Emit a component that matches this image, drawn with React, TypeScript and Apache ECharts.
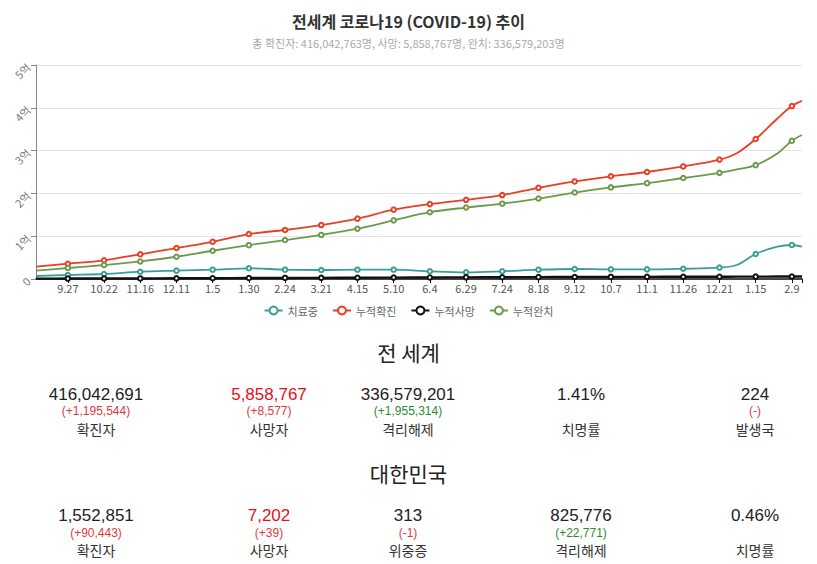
import React, { useEffect, useRef } from "react";
import * as echarts from "echarts";

// x positions of data points (dates); markers drawn at the labelled dates
const pointDates = [
  "2020-09-05", "2020-09-27", "2020-10-22", "2020-11-16", "2020-12-11",
  "2021-01-05", "2021-01-30", "2021-02-24", "2021-03-21", "2021-04-15",
  "2021-05-10", "2021-06-04", "2021-06-29", "2021-07-24", "2021-08-18",
  "2021-09-12", "2021-10-07", "2021-11-01", "2021-11-26", "2021-12-21",
  "2022-01-02", "2022-01-15", "2022-01-30", "2022-02-09", "2022-02-16",
];
const labelDates = [
  "2020-09-27", "2020-10-22", "2020-11-16", "2020-12-11", "2021-01-05",
  "2021-01-30", "2021-02-24", "2021-03-21", "2021-04-15", "2021-05-10",
  "2021-06-04", "2021-06-29", "2021-07-24", "2021-08-18", "2021-09-12",
  "2021-10-07", "2021-11-01", "2021-11-26", "2021-12-21", "2022-01-15",
  "2022-02-09",
];
const axisStart = "2020-09-05";
const axisEnd = "2022-02-16";

// values in millions of people
const activeCases = [
  7.0, 9.3, 11.7, 17.0, 19.5, 21.8, 25.0, 21.8, 21.0, 21.8, 21.8, 18.0, 15.6,
  18.0, 21.8, 23.4, 22.6, 22.6, 24.0, 26.6, 32.7, 58.4, 75.5, 79.4, 75.5,
];
const confirmedCases = [
  28.7, 35.7, 43.7, 57.7, 72.4, 87.0, 105.0, 114.5, 126.0, 141.0, 162.0, 175.0,
  185.0, 196.0, 213.0, 228.0, 240.0, 250.0, 263.0, 279.0, 294.0, 327.0, 375.0,
  404.0, 416.0,
];
const deathCases = [
  0.87, 1.0, 1.13, 1.32, 1.58, 1.86, 2.2, 2.48, 2.72, 2.97, 3.31, 3.63, 3.91,
  4.13, 4.4, 4.64, 4.84, 5.01, 5.18, 5.38, 5.45, 5.55, 5.68, 5.76, 5.86,
];
const recoveredCases = [
  19.4, 25.7, 32.7, 41.0, 52.0, 66.0, 79.0, 91.0, 103.0, 117.5, 137.0, 156.0,
  167.0, 176.0, 188.0, 202.0, 214.0, 224.0, 236.0, 248.0, 256.0, 266.0, 293.0,
  323.0, 336.6,
];
const seriesNames = ["치료중", "누적확진", "누적사망", "누적완치"];
const seriesColors = ["#3a9e98", "#ea3d22", "#111111", "#6b9a4b"];

const chartTitle = "전세계 코로나19 (COVID-19) 추이";
const chartSubtitle =
  "총 확진자: 416,042,763명, 사망: 5,858,767명, 완치: 336,579,203명";

// statistics blocks
const worldHeading = "전 세계";
const worldValues = ["416,042,691", "5,858,767", "336,579,201", "1.41%", "224"];
const worldDeltas = ["(+1,195,544)", "(+8,577)", "(+1,955,314)", "", "(-)"];
const worldLabels = ["확진자", "사망자", "격리해제", "치명률", "발생국"];
const worldValueColors = ["#222", "#e8101c", "#222", "#222", "#222"];
const worldDeltaColors = ["#e0383c", "#e0383c", "#2f8a2f", "#e0383c", "#e0383c"];

const koreaHeading = "대한민국";
const koreaValues = ["1,552,851", "7,202", "313", "825,776", "0.46%"];
const koreaDeltas = ["(+90,443)", "(+39)", "(-1)", "(+22,771)", ""];
const koreaLabels = ["확진자", "사망자", "위중증", "격리해제", "치명률"];
const koreaValueColors = ["#222", "#e8101c", "#222", "#222", "#222"];
const koreaDeltaColors = ["#e0383c", "#e0383c", "#e0383c", "#2f8a2f", "#e0383c"];

const columnCenters = [96, 269, 408, 581, 755];

function toTs(s: string): number {
  const [y, m, d] = s.split("-").map(Number);
  return Date.UTC(y, m - 1, d);
}
function dayIndex(s: string): number {
  return Math.round((toTs(s) - toTs(axisStart)) / 86400000);
}
function shortLabel(s: string): string {
  const [, m, d] = s.split("-").map(Number);
  return m + "." + d;
}

const FONT = "'Noto Sans CJK KR', 'Noto Sans', sans-serif";
const NUM_FONT = "'Liberation Sans', 'Noto Sans CJK KR', sans-serif";

function Chart() {
  const ref = useRef<HTMLDivElement>(null);
  useEffect(() => {
    if (!ref.current) return;
    const chart = echarts.init(ref.current, null, { renderer: "svg" });
    const labelIdx = labelDates.map(dayIndex);
    const labelMap: Record<number, string> = {};
    labelDates.forEach((d) => (labelMap[dayIndex(d)] = shortLabel(d)));
    const makeData = (values: number[]) =>
      pointDates.map((d, i) => ({
        value: [dayIndex(d), values[i]],
        symbol: labelDates.includes(d) ? "emptyCircle" : "none",
      }));
    const allValues = [activeCases, confirmedCases, deathCases, recoveredCases];
    chart.setOption({
      animation: false,
      textStyle: { fontFamily: FONT },
      title: {
        text: chartTitle,
        subtext: chartSubtitle,
        left: "center",
        top: 8,
        itemGap: 9,
        textStyle: { fontSize: 16, fontWeight: "bold", color: "#333", fontFamily: FONT },
        subtextStyle: { fontSize: 11, color: "#aaa", fontFamily: FONT },
      },
      legend: {
        data: seriesNames,
        top: 300,
        left: "center",
        itemWidth: 18,
        itemHeight: 10,
        itemGap: 14,
        textStyle: { fontSize: 11, color: "#666", fontFamily: FONT },
      },
      grid: { left: 36, right: 15, top: 65, height: 214, containLabel: false },
      xAxis: {
        type: "value",
        min: 0,
        max: dayIndex(axisEnd),
        axisLine: { show: true, onZero: false, lineStyle: { color: "#111", width: 1.5 } },
        axisTick: {
          show: true,
          length: 4,
          customValues: [...labelIdx, dayIndex(axisEnd)],
          lineStyle: { color: "#111" },
        },
        axisLabel: {
          customValues: labelIdx,
          fontSize: 11,
          color: "#555",
          margin: 3,
          formatter: (v: number) => labelMap[Math.round(v)] ?? "",
        },
        splitLine: { show: false },
      },
      yAxis: {
        type: "value",
        min: 0,
        max: 500,
        interval: 100,
        axisLine: { show: true, lineStyle: { color: "#888" } },
        axisTick: { show: true, length: 5, lineStyle: { color: "#888" } },
        axisLabel: {
          rotate: 45,
          fontSize: 11,
          color: "#777",
          margin: 8,
          formatter: (v: number) => (v === 0 ? "0" : v / 100 + "억"),
        },
        splitLine: { show: true, lineStyle: { color: "#e4e4e4" } },
      },
      series: seriesNames.map((name, i) => ({
        name,
        type: "line",
        smooth: 0.35,
        symbol: "emptyCircle",
        symbolSize: 4.5,
        showAllSymbol: true,
        itemStyle: { color: seriesColors[i], borderWidth: 1 },
        lineStyle: { color: seriesColors[i], width: i === 2 ? 2.4 : 1.8 },
        data: makeData(allValues[i]),
        z: i === 2 ? 5 : 3,
      })),
    });
    return () => chart.dispose();
  }, []);
  return (
    <div
      ref={ref}
      style={{ position: "absolute", left: 0, top: 0, width: 817, height: 330 }}
    />
  );
}

function Line(props: {
  x: number;
  cy: number;
  lh: number;
  size: number;
  color: string;
  font: string;
  text: string;
}) {
  const { x, cy, lh, size, color, font, text } = props;
  if (!text) return null;
  return (
    <div
      style={{
        position: "absolute",
        left: x - 90,
        width: 180,
        top: cy - lh / 2,
        height: lh,
        lineHeight: lh + "px",
        fontSize: size,
        color,
        fontFamily: font,
        textAlign: "center",
        whiteSpace: "nowrap",
      }}
    >
      {text}
    </div>
  );
}

function StatRow(props: {
  yValue: number;
  yDelta: number;
  yLabel: number;
  values: string[];
  deltas: string[];
  labels: string[];
  valueColors: string[];
  deltaColors: string[];
}) {
  const { yValue, yDelta, yLabel, values, deltas, labels, valueColors, deltaColors } = props;
  return (
    <>
      {values.map((v, i) => (
        <React.Fragment key={i}>
          <Line x={columnCenters[i]} cy={yValue} lh={20} size={17} color={valueColors[i]} font={NUM_FONT} text={v} />
          <Line x={columnCenters[i]} cy={yDelta} lh={14} size={12} color={deltaColors[i]} font={NUM_FONT} text={deltas[i]} />
          <Line x={columnCenters[i]} cy={yLabel} lh={18} size={14} color="#333" font={FONT} text={labels[i]} />
        </React.Fragment>
      ))}
    </>
  );
}

export default function App() {
  return (
    <div
      style={{
        position: "absolute",
        left: 0,
        top: 0,
        width: 817,
        height: 564,
        background: "#fff",
        fontFamily: FONT,
        overflow: "hidden",
      }}
    >
      <Chart />
      <div
        style={{
          position: "absolute",
          left: 0,
          width: 817,
          top: 338,
          textAlign: "center",
          fontSize: 21,
          lineHeight: "28px",
          color: "#222",
        }}
      >
        {worldHeading}
      </div>
      <StatRow
        yValue={395}
        yDelta={410.5}
        yLabel={428.5}
        values={worldValues}
        deltas={worldDeltas}
        labels={worldLabels}
        valueColors={worldValueColors}
        deltaColors={worldDeltaColors}
      />
      <div
        style={{
          position: "absolute",
          left: 0,
          width: 817,
          top: 459,
          textAlign: "center",
          fontSize: 21,
          lineHeight: "28px",
          color: "#222",
        }}
      >
        {koreaHeading}
      </div>
      <StatRow
        yValue={516}
        yDelta={532.5}
        yLabel={549.5}
        values={koreaValues}
        deltas={koreaDeltas}
        labels={koreaLabels}
        valueColors={koreaValueColors}
        deltaColors={koreaDeltaColors}
      />
    </div>
  );
}
